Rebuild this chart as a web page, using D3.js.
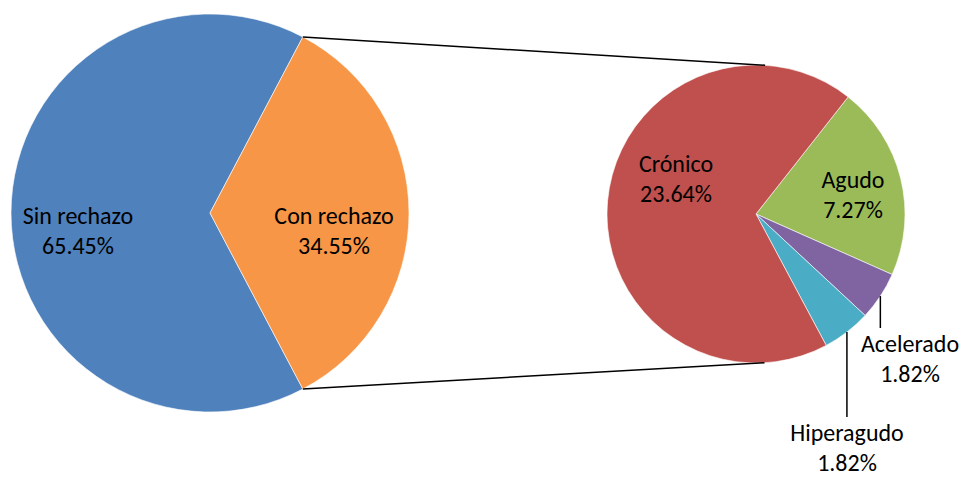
<!DOCTYPE html>
<html>
<head>
<meta charset="utf-8">
<script src="https://cdn.jsdelivr.net/npm/d3@7.9.0/dist/d3.min.js"></script>
<style>
  body { margin: 0; background: #fff; }
  svg text { font-family: Carlito, Calibri, Lato, sans-serif; font-size: 24px; fill: #000; }
</style>
</head>
<body>
<svg width="967" height="477"></svg>
<script>
// main pie data
const mainLabels = ['Sin rechazo', 'Con rechazo'];
const mainValues = [65.45, 34.55];
const mainColors = ['#4F81BD', '#F79646'];

// secondary pie (breakdown of "Con rechazo")
const subLabels = ['Agudo', 'Acelerado', 'Hiperagudo', 'Crónico'];
const subValues = [7.27, 1.82, 1.82, 23.64];
const subColors = ['#9BBB59', '#8064A2', '#4BACC6', '#C0504D'];

const svg = d3.select('svg');
const deg = Math.PI / 180;

const main = { cx: 210, cy: 213, r: 199 };
const sub = { cx: 756, cy: 214, r: 149 };

// label block centres, relative to each pie centre
const mainLabelPos = [[-132, 18], [124, 18]];
const subLabelPos = [[97, -19], [154, 145], [91, 234], [-80, -35]];
const leaders = { Acelerado: true, Hiperagudo: true };

// "Con rechazo" sits centred on the right side
const conShare = mainValues[1] / d3.sum(mainValues);
const mainStart = 90 * deg + conShare * Math.PI;

const mainPie = d3.pie().sort(null).value(d => d)
  .startAngle(mainStart).endAngle(mainStart + 2 * Math.PI);
const subStart = 38.2 * deg;
const subPie = d3.pie().sort(null).value(d => d)
  .startAngle(subStart).endAngle(subStart + 2 * Math.PI);

const mainArc = d3.arc().innerRadius(0).outerRadius(main.r);
const subArc = d3.arc().innerRadius(0).outerRadius(sub.r);

const gMain = svg.append('g').attr('transform', `translate(${main.cx},${main.cy})`);
const gSub = svg.append('g').attr('transform', `translate(${sub.cx},${sub.cy})`);

const mainData = mainPie(mainValues);
gMain.selectAll('path')
  .data(mainData)
  .join('path')
  .attr('d', mainArc)
  .attr('fill', (d, i) => mainColors[i])
  .attr('stroke', '#fff')
  .attr('stroke-width', 0.6);

const subData = subPie(subValues);
gSub.selectAll('path')
  .data(subData)
  .join('path')
  .attr('d', subArc)
  .attr('fill', (d, i) => subColors[i])
  .attr('stroke', '#fff')
  .attr('stroke-width', 0.6);

// connector lines: from the "Con rechazo" edge points, tangent to the second pie
function tangentPoint(px, py, side) {
  const dx = px - sub.cx, dy = py - sub.cy;
  const d = Math.hypot(dx, dy);
  const base = Math.atan2(dy, dx);
  const off = Math.acos(sub.r / d) * side;
  return [sub.cx + sub.r * Math.cos(base + off), sub.cy + sub.r * Math.sin(base + off)];
}
const con = mainData[1];
[[con.startAngle, 1], [con.endAngle, -1]].forEach(([a, side]) => {
  const px = main.cx + main.r * Math.sin(a);
  const py = main.cy - main.r * Math.cos(a);
  const [tx, ty] = tangentPoint(px, py, side);
  svg.append('line')
    .attr('x1', px).attr('y1', py)
    .attr('x2', tx).attr('y2', ty)
    .attr('stroke', '#000')
    .attr('stroke-width', 1.5);
});

function pct(v) { return v.toFixed(2) + '%'; }
const total = d3.sum(mainValues);

function drawLabel(g, x, y, name, value) {
  const t = g.append('text').attr('text-anchor', 'middle');
  t.append('tspan').attr('x', x).attr('y', y - 7).text(name);
  t.append('tspan').attr('x', x).attr('y', y + 23).text(pct(value / total * 100));
}

mainLabels.forEach((name, i) => {
  const [x, y] = mainLabelPos[i];
  drawLabel(gMain, x, y, name, mainValues[i]);
});

subLabels.forEach((name, i) => {
  const [x, y] = subLabelPos[i];
  drawLabel(gSub, x, y, name, subValues[i]);
  if (leaders[name]) {
    const d = subData[i];
    const mid = (d.startAngle + d.endAngle) / 2;
    const lx = sub.r * Math.sin(mid);
    const ly = -sub.r * Math.cos(mid);
    gSub.append('line')
      .attr('x1', lx).attr('y1', ly)
      .attr('x2', lx).attr('y2', y - 31)
      .attr('stroke', '#000')
      .attr('stroke-width', 1.5);
  }
});
</script>
</body>
</html>
